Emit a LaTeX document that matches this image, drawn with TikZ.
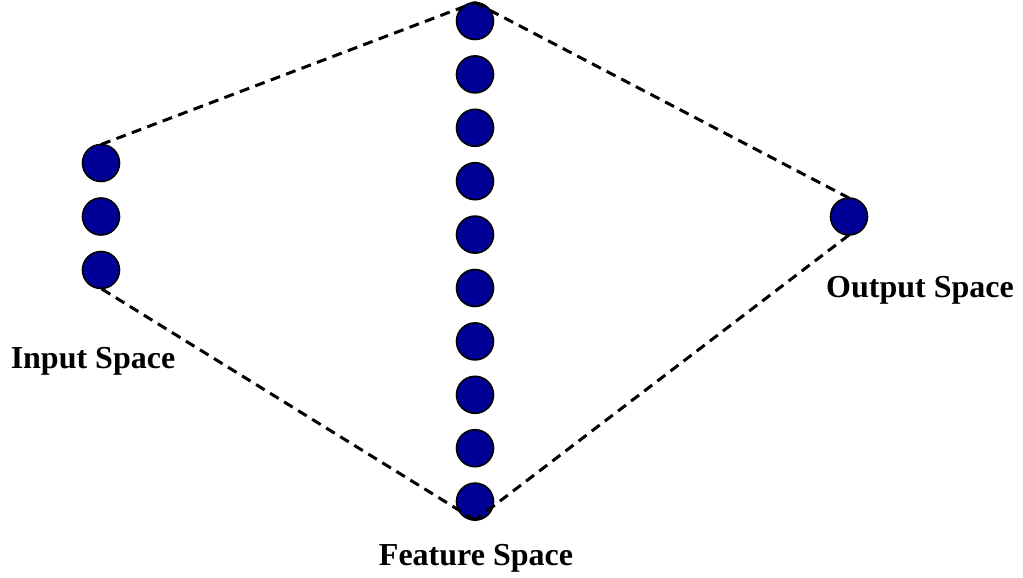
\documentclass[tikz,border=0pt]{standalone}
\usepackage{fontspec}
\setmainfont{Liberation Serif}
\definecolor{dotblue}{RGB}{0,0,150}
\begin{document}
\begin{tikzpicture}[x=1pt,y=-1pt,
  dot/.style={circle,fill=dotblue,draw=black,line width=1.6pt,minimum size=37pt,inner sep=0pt,outer sep=0pt},
  link/.style={line width=3pt,dash pattern=on 10pt off 6.5pt,black},
  lbl/.style={font=\fontsize{32}{38}\selectfont\bfseries,anchor=base,inner sep=0pt}]
\useasboundingbox (0,0) rectangle (1023,578);
% input
\node[dot] (i1) at (101,163) {};
\node[dot] (i2) at (101,216.5) {};
\node[dot] (i3) at (101,270) {};
% feature
\foreach \k in {0,...,9} {
  \node[dot] (f\k) at (475,{21+\k*53.4}) {};
}
% output
\node[dot] (o1) at (849,216.5) {};
% connectors
\draw[link] (i1.north) -- (f0.north);
\draw[link] (f0.north) -- (o1.north);
\draw[link] (o1.south) -- (f9.south);
\draw[link] (f9.south) -- (i3.south);
% labels
\node[lbl] (lin) at (93,368) {Input Space};
\node[lbl] (lfe) at (476,565) {Feature Space};
\node[lbl] (lout) at (920,297) {Output Space};
\end{tikzpicture}
\end{document}
